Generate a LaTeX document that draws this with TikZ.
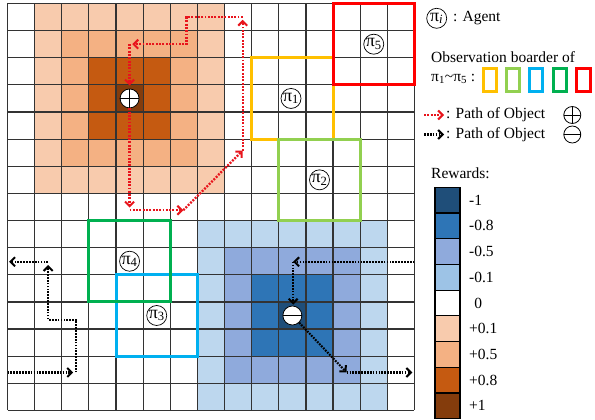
\documentclass[tikz,border=0pt]{standalone}
\usepackage{fontspec}
\setmainfont{Liberation Serif}
\usetikzlibrary{arrows.meta}
\definecolor{pos0}{HTML}{843C0C}
\definecolor{pos1}{HTML}{C55A11}
\definecolor{pos2}{HTML}{F4B183}
\definecolor{pos3}{HTML}{F8CBAD}
\definecolor{neg0}{HTML}{1F4E79}
\definecolor{neg1}{HTML}{2E75B6}
\definecolor{neg2}{HTML}{8FAADC}
\definecolor{neg3}{HTML}{BDD7EE}
\definecolor{legc}{HTML}{9DC3E6}
\definecolor{obsyellow}{HTML}{FFC000}
\definecolor{obslgreen}{HTML}{92D050}
\definecolor{obscyan}{HTML}{00B0F0}
\definecolor{obsgreen}{HTML}{00B050}
\definecolor{obsred}{HTML}{FF0000}
\definecolor{redp}{HTML}{E8141C}
\tikzset{
  gridline/.style={line width=1.2pt, draw=black!80},
  obsbox/.style={line width=3pt},
  agent/.style={circle, draw=black, line width=0.7pt, minimum size=20pt, inner sep=0pt, font=\fontsize{18}{18}\selectfont},
  objplus/.style={circle, draw=black, fill=white, line width=0.8pt, minimum size=19pt, inner sep=0pt,
    path picture={\draw[line width=0.8pt] (path picture bounding box.north) -- (path picture bounding box.south)
      (path picture bounding box.west) -- (path picture bounding box.east);}},
  objminus/.style={circle, draw=black, fill=white, line width=0.8pt, minimum size=19pt, inner sep=0pt,
    path picture={\draw[line width=0.8pt] (path picture bounding box.west) -- (path picture bounding box.east);}},
  redline/.style={draw=redp, line width=2.3pt, dash pattern=on 1.9pt off 1.4pt},
  redpath/.style={redline, -{Straight Barb[length=4.5pt,width=9pt,line width=2pt]}},
  blkline/.style={draw=black, line width=2.1pt, dash pattern=on 1.7pt off 1.2pt},
  blkpath/.style={blkline, -{Straight Barb[length=4.5pt,width=9pt,line width=2pt]}},
  legtext/.style={inner sep=0pt, anchor=west},
  legbox/.style={draw=black, line width=1.2pt},
}
\begin{document}
\begin{tikzpicture}[x=1pt,y=-1pt, font=\fontsize{15.5}{18}\selectfont]
\useasboundingbox (0,0) rectangle (595,420);
\begin{scope}[shift={(7.5,3.5)}, x=27.13pt, y=-27.13pt]
  % reward cells
  \foreach \i in {1,...,7}{\foreach \j in {0,...,6}{
    \pgfmathtruncatemacro{\d}{max(abs(\i-4),abs(\j-3))}
    \fill[pos\d] (\i,\j) rectangle ++(1,1);
  }}
  \foreach \i in {7,...,13}{\foreach \j in {8,...,14}{
    \pgfmathtruncatemacro{\d}{max(abs(\i-10),abs(\j-11))}
    \fill[neg\d] (\i,\j) rectangle ++(1,1);
  }}
  % grid
  \foreach \k in {0,...,15}{
    \draw[gridline] (\k,0) -- (\k,15);
    \draw[gridline] (0,\k) -- (15,\k);
  }
  % observation borders
  \draw[obsbox, obsyellow] (9,2) rectangle (12,5);
  \draw[obsbox, obsred] (12,0) rectangle (15,3);
  \draw[obsbox, obslgreen] (10,5) rectangle (13,8);
  \draw[obsbox, obscyan] (4,10) rectangle (7,13);
  \draw[obsbox, obsgreen] (3,8) rectangle (6,11);
  % agents
  \node[agent] (a1) at (10.45,3.5) {π\textsubscript{1}};
  \node[agent] (a2) at (11.5,6.5) {π\textsubscript{2}};
  \node[agent] (a3) at (5.5,11.5) {π\textsubscript{3}};
  \node[agent] (a4) at (4.5,9.5) {π\textsubscript{4}};
  \node[agent] (a5) at (13.5,1.5) {π\textsubscript{5}};
  % objects
  \node[objplus] (op) at (4.5,3.5) {};
  \node[objminus] (om) at (10.5,11.5) {};
  % red path
  \coordinate (ra) at (4.5,7.52);
  \coordinate (rb) at (4.5,7.62);
  \coordinate (rc) at (6.48,7.62);
  \coordinate (rd) at (8.67,5.42);
  \coordinate (re) at (8.67,0.6);
  \coordinate (rf) at (8.67,0.5);
  \coordinate (rg) at (6.6,0.5);
  \coordinate (rh) at (6.6,1.5);
  \coordinate (ri) at (4.6,1.5);
  \coordinate (rj) at (4.5,1.5);
  \coordinate (rk) at (4.5,3.02);
  \draw[redpath] (op) -- (ra);
  \draw[redpath] (rb) -- (rc);
  \draw[redpath] (rc) -- (rd);
  \draw[redpath] (rd) -- (re);
  \draw[redpath] (rf) -- (rg) -- (rh) -- (ri);
  \draw[redpath] (rj) -- (rk);
  % black path
  \coordinate (br0) at (15,9.52);
  \coordinate (br1) at (10.53,9.52);
  \coordinate (br2) at (10.53,9.52);
  \coordinate (br3) at (10.53,11.1);
  \coordinate (br4) at (12.5,13.6);
  \coordinate (br5) at (14.92,13.6);
  \coordinate (bl0) at (0,13.6);
  \coordinate (bl1) at (2.42,13.6);
  \coordinate (bl2) at (2.53,13.6);
  \coordinate (bl3) at (2.53,11.65);
  \coordinate (bl4) at (1.5,11.65);
  \coordinate (bl5) at (1.5,9.64);
  \coordinate (bl6) at (1.5,9.52);
  \coordinate (bl7) at (0.06,9.52);
  \draw[blkpath] (br0) -- (br1);
  \draw[blkpath] (br2) -- (br3);
  \draw[blkpath] (om) -- (br4);
  \draw[blkpath] (br4) -- (br5);
  \draw[blkpath] (bl0) -- (bl1);
  \draw[blkpath] (bl2) -- (bl3) -- (bl4) -- (bl5);
  \draw[blkpath] (bl6) -- (bl7);
\end{scope}
% legend: agent
\node[agent] (la) at (436.7,18.3) {π\textsubscript{\textit{i}}};
\node[legtext] (lat) at (453,18.3) {: Agent};
% legend: observation borders
\node[legtext] (lot) at (431,57) {Observation boarder of};
\node[legtext] (lpt) at (431,79) {π\textsubscript{1}\textasciitilde π\textsubscript{5} :};
\draw[obsbox, obsyellow] (483.2,68.2) rectangle (496.8,91.8);
\draw[obsbox, obslgreen] (506.2,68.2) rectangle (519.8,91.8);
\draw[obsbox, obscyan] (529.2,68.2) rectangle (542.8,91.8);
\draw[obsbox, obsgreen] (553.2,68.2) rectangle (566.8,91.8);
\draw[obsbox, obsred] (576.5,68.2) rectangle (590.1,91.8);
% legend: paths
\coordinate (lr0) at (424,115);
\coordinate (lr1) at (444,115);
\draw[redpath] (lr0) -- (lr1);
\node[legtext] (lrt) at (446,115) {: Path of Object};
\node[objplus, minimum size=17pt] (lop) at (572.3,115) {};
\coordinate (lb0) at (424,134.5);
\coordinate (lb1) at (444,134.5);
\draw[blkpath] (lb0) -- (lb1);
\node[legtext] (lbt) at (446,134.5) {: Path of Object};
\node[objminus, minimum size=17pt] (lom) at (572.3,134.5) {};
% legend: rewards
\node[legtext] (lrw) at (431,173) {Rewards:};
\foreach \c/\t [count=\k from 0] in {neg0/-1, neg1/-0.8, neg2/-0.5, legc/-0.1, white/{\hphantom{-}0}, pos3/+0.1, pos2/+0.5, pos1/+0.8, pos0/+1}{
  \draw[legbox, fill=\c] (435,187.3+\k*25.7) rectangle ++(25,25.7);
  \node[legtext] (rw\k) at (469,200.2+\k*25.7) {\t};
}
\end{tikzpicture}
\end{document}
